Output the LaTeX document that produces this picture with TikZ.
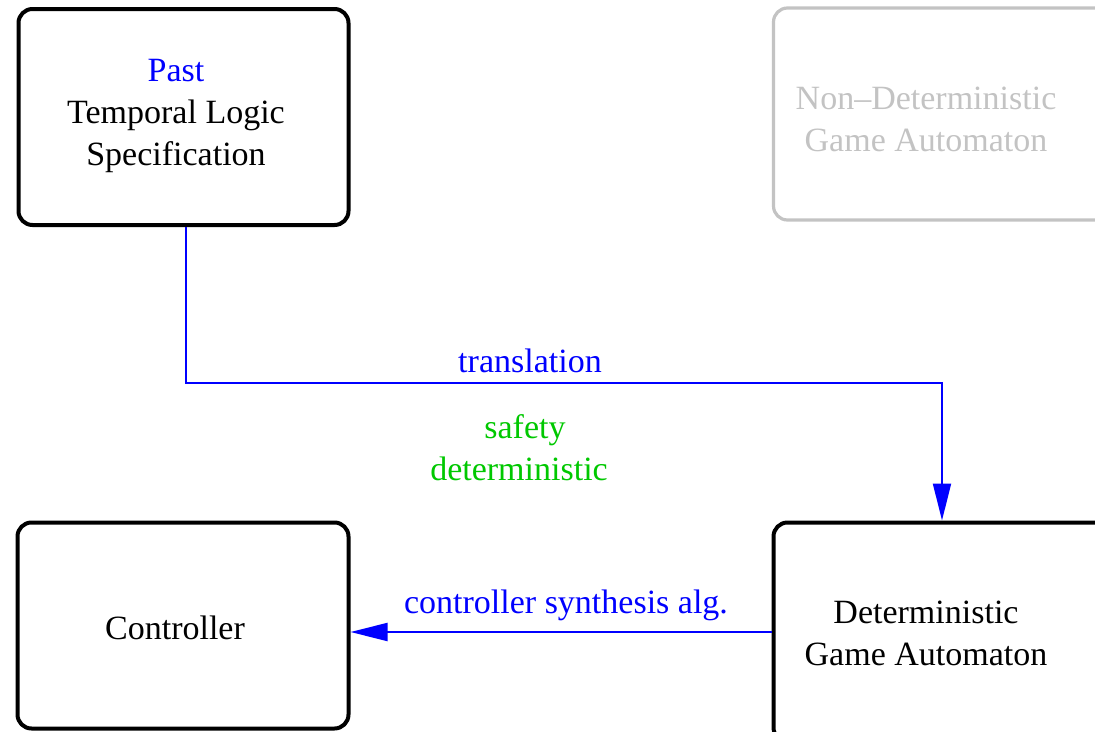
\documentclass[tikz,border=0pt]{standalone}
\usepackage{fontspec}
\setmainfont{Liberation Serif}
\usetikzlibrary{arrows.meta}
\definecolor{flowblue}{RGB}{0,0,255}
\definecolor{safegreen}{RGB}{0,200,0}
\definecolor{dimgray}{RGB}{195,195,195}
\tikzset{
  box/.style={draw, line width=4pt, rounded corners=14pt, inner sep=0pt},
  ghostbox/.style={draw=dimgray, line width=3.2pt, rounded corners=14pt, inner sep=0pt},
  txt/.style={align=center, inner sep=0pt, font=\fontsize{34pt}{42pt}\selectfont},
  flow/.style={draw=flowblue, line width=2pt, -{Triangle[length=37pt,width=18pt]}},
}
\begin{document}
\begin{tikzpicture}[x=1pt, y=-1pt]
\useasboundingbox (0,0) rectangle (1095,731);

% boxes
\node[box, minimum width=330pt, minimum height=216pt] (spec) at (183.5,117) {};
\node[ghostbox, minimum width=337pt, minimum height=212pt] (ndga) at (942,114) {};
\node[box, minimum width=331pt, minimum height=206pt] (ctrl) at (183,625.5) {};
\node[box, minimum width=337pt, minimum height=219pt] (dga) at (942,632) {};

% box texts
\node[txt] (specT) at (176,116) {\textcolor{flowblue}{Past}\\Temporal Logic\\Specification};
\node[txt, text=dimgray] (ndgaT) at (926,119) {Non--Deterministic\\Game Automaton};
\node[txt] (ctrlT) at (175,628) {Controller};
\node[txt] (dgaT) at (926,633) {Deterministic\\Game Automaton};

% translation connector
\coordinate (bendA) at (186,383);
\coordinate (bendB) at (942,383);
\draw[flow] (spec.south -| bendA) -- (bendA) -- (bendB) -- (dga.north -| bendB);
\node[txt, text=flowblue] (transL) at (530,361) {translation};
\node[txt, text=safegreen] (safeL) at (519,448) {\hspace*{12pt}safety\\deterministic};

% synthesis connector
\draw[flow] (dga.west) -- (dga.west -| ctrl.east);
\node[txt, text=flowblue] (synL) at (566,605) {controller synthesis alg.};
\end{tikzpicture}
\end{document}
